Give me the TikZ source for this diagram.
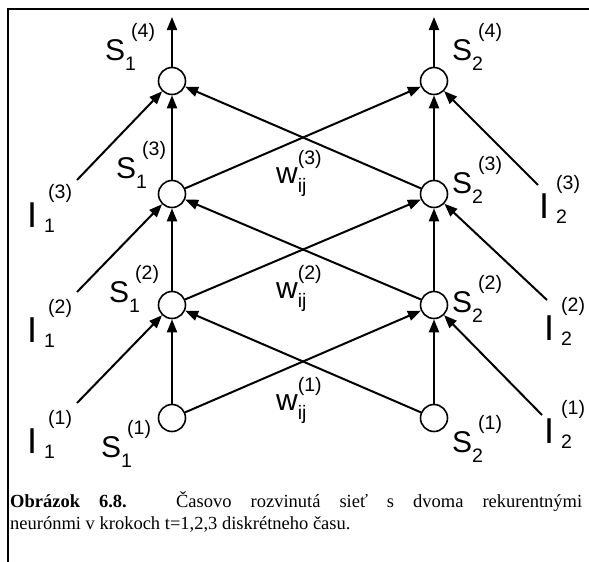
\documentclass[tikz,border=0pt]{standalone}
\usepackage{fontspec}
\setmainfont{Liberation Serif}
\setsansfont{Liberation Sans}
\usetikzlibrary{arrows.meta}

% script size and the three kinds of labels
\newcommand{\scrfont}{\fontsize{19.5}{20}\selectfont}
\newcommand{\slab}[3]{#1\rlap{\hspace{6pt}\raisebox{23pt}{\scrfont(#3)}}\raisebox{-10pt}{\scrfont#2}}
\newcommand{\ilab}[4][4pt]{#2\hspace{7pt}\rlap{\hspace{#1}\raisebox{29pt}{\scrfont(#4)}}\raisebox{-5pt}{\scrfont#3}}
\newcommand{\wlab}[1]{w\rlap{\raisebox{19pt}{\scrfont(#1)}}\raisebox{-9pt}{\scrfont ij}}

\begin{document}
\begin{tikzpicture}[x=1pt,y=-1pt,
    neuron/.style={circle,draw,line width=1.6pt,minimum size=27pt,inner sep=0pt},
    syn/.style={-{Triangle[length=13pt,width=10pt]},line width=2pt},
    lbl/.style={inner sep=0pt,anchor=base west,font=\sffamily\fontsize{30}{31}\selectfont},
    ilbl/.style={lbl,font=\sffamily\fontsize{36}{37}\selectfont}]
    \useasboundingbox (0,0) rectangle (589,562);

    % Frame
    \draw[line width=2pt] (8,562) -- (8,8.5) -- (589,8.5);

    % Neurons
    \node[neuron] (s11) at (172,418) {};
    \node[neuron] (s12) at (172,305) {};
    \node[neuron] (s13) at (172,194) {};
    \node[neuron] (s14) at (172,81) {};
    \node[neuron] (s21) at (434,418) {};
    \node[neuron] (s22) at (434,305) {};
    \node[neuron] (s23) at (434,194) {};
    \node[neuron] (s24) at (434,81) {};

    % Outputs
    \coordinate (o1) at (172,17);
    \coordinate (o2) at (434,17);
    \draw[syn] (s14) -- (o1);
    \draw[syn] (s24) -- (o2);

    % Inputs
    \coordinate (i11) at (77,403);
    \coordinate (i12) at (77,292);
    \coordinate (i13) at (77,180);
    \coordinate (i21) at (542,415);
    \coordinate (i22) at (547,300);
    \coordinate (i23) at (538,185);
    \draw[syn] (i11) -- (s12);
    \draw[syn] (i12) -- (s13);
    \draw[syn] (i13) -- (s14);
    \draw[syn] (i21) -- (s22);
    \draw[syn] (i22) -- (s23);
    \draw[syn] (i23) -- (s24);

    % Recurrent links
    \draw[syn] (s11) -- (s12);
    \draw[syn] (s12) -- (s13);
    \draw[syn] (s13) -- (s14);
    \draw[syn] (s21) -- (s22);
    \draw[syn] (s22) -- (s23);
    \draw[syn] (s23) -- (s24);
    \draw[syn] (s11) -- (s22);
    \draw[syn] (s12) -- (s23);
    \draw[syn] (s13) -- (s24);
    \draw[syn] (s21) -- (s12);
    \draw[syn] (s22) -- (s13);
    \draw[syn] (s23) -- (s14);

    % Neuron labels
    \node[lbl] (ls14) at (105,60) {\slab{S}{1}{4}};
    \node[lbl] (ls24) at (452,60) {\slab{S}{2}{4}};
    \node[lbl] (ls13) at (116,178) {\slab{S}{1}{3}};
    \node[lbl] (ls23) at (452,193) {\slab{S}{2}{3}};
    \node[lbl] (ls12) at (109,302) {\slab{S}{1}{2}};
    \node[lbl] (ls22) at (452,312) {\slab{S}{2}{2}};
    \node[lbl] (ls11) at (101,457) {\slab{S}{1}{1}};
    \node[lbl] (ls21) at (452,452) {\slab{S}{2}{1}};

    % Input labels
    \node[ilbl] (li11) at (27,453) {\ilab{I}{1}{1}};
    \node[ilbl] (li12) at (27,342) {\ilab{I}{1}{2}};
    \node[ilbl] (li13) at (27,227) {\ilab{I}{1}{3}};
    \node[ilbl] (li21) at (544,443) {\ilab[0pt]{I}{2}{1}};
    \node[ilbl] (li22) at (544,340) {\ilab[0pt]{I}{2}{2}};
    \node[ilbl] (li23) at (539,218) {\ilab[0pt]{I}{2}{3}};

    % Weights
    \node[lbl] (w1) at (276,410) {\wlab{1}};
    \node[lbl] (w2) at (276,298) {\wlab{2}};
    \node[lbl] (w3) at (276,183) {\wlab{3}};

    % Caption
    \node[anchor=north west,inner sep=0pt,text width=572pt,align=justify,
        font=\fontsize{18.5}{22}\selectfont] (cap) at (10,491)
        {\textbf{Obrázok 6.8.} Časovo rozvinutá sieť s dvoma rekurentnými\linebreak
        neurónmi v krokoch t=1,2,3 diskrétneho času.};
\end{tikzpicture}
\end{document}
